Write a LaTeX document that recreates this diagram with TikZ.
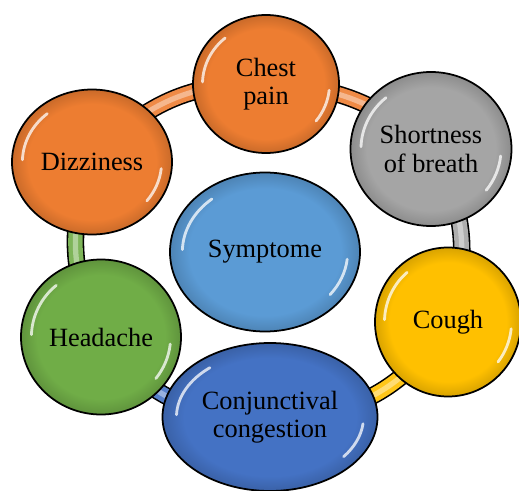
\documentclass[tikz,border=0pt]{standalone}
\usepackage{fontspec}
\setmainfont{Liberation Serif}
\usetikzlibrary{positioning,calc,shapes.geometric,backgrounds}
\definecolor{sOrange}{HTML}{ED7D31}
\definecolor{sGray}{HTML}{A5A5A5}
\definecolor{sYellow}{HTML}{FFC000}
\definecolor{sBlue}{HTML}{4472C4}
\definecolor{sGreen}{HTML}{70AD47}
\definecolor{sSky}{HTML}{5B9BD5}
\colorlet{ballc}{sOrange}
\pgfdeclareradialshading[ballc]{rimshade}{\pgfpoint{0bp}{0bp}}{%
  color(0bp)=(ballc); color(20bp)=(ballc); color(25bp)=(ballc!85!black);
  color(50bp)=(ballc!85!black)}
\tikzset{
  bubble/.style={ellipse, draw=black, line width=1pt, inner sep=0pt, align=center,
                 font=\fontsize{15}{16}\selectfont,
                 /utils/exec={\colorlet{ballc}{#1}}, shading=rimshade,
                 path picture={
                   \draw[white, line width=1.6pt, line cap=round, opacity=.75]
                     let \p1=($(path picture bounding box.north east)-(path picture bounding box.center)$) in
                     ($(path picture bounding box.center)+(130:0.87*\x1 and 0.87*\y1)$)
                       arc[start angle=130, end angle=178, x radius=0.87*\x1, y radius=0.87*\y1]
                     ($(path picture bounding box.center)+(-6:0.87*\x1 and 0.87*\y1)$)
                       arc[start angle=-6, end angle=-38, x radius=0.87*\x1, y radius=0.87*\y1];}},
  tube/.style={draw=black, line width=10pt,
               postaction={draw=#1!90!white, line width=8.2pt},
               postaction={draw=#1!55!white, line width=3pt}},
}

\begin{document}
\begin{tikzpicture}
  \useasboundingbox (0,0) rectangle (10.38,9.8);

  % symptoms round the ring
  \node[bubble=sOrange, minimum width=2.92cm, minimum height=2.76cm] (chest) at (5.32,8.12) {Chest\\ pain};
  \node[bubble=sGray, minimum width=3.22cm, minimum height=3.08cm] (breath) at (8.62,6.82) {Shortness\\ of breath};
  \node[bubble=sYellow, minimum width=2.92cm, minimum height=2.98cm] (cough) at (8.96,3.36) {Cough};
  \node[bubble=sBlue, minimum width=4.3cm, minimum height=2.96cm] (conj) at (5.40,1.46) {Conjunctival\\ congestion};
  \node[bubble=sGreen, minimum width=3.2cm, minimum height=3.1cm] (head) at (2.02,3.06) {Headache};
  \node[bubble=sOrange, minimum width=3.2cm, minimum height=2.9cm] (dizzy) at (1.84,6.56) {Dizziness};

  % centre
  \node[bubble=sSky, minimum width=3.8cm, minimum height=3.18cm] (symp) at (5.30,4.76) {Symptome};

  % ring tubes
  \begin{scope}[on background layer]
    \draw[tube=sOrange] (dizzy.center) to[bend left=26] (chest.center);
    \draw[tube=sOrange] (chest.center) to[bend left=20] (breath.center);
    \draw[tube=sGray] (breath.center) to[bend left=25] (cough.center);
    \draw[tube=sYellow] (cough.center) to[bend left=30] (conj.center);
    \draw[tube=sBlue] (conj.center) to[bend left=28] (head.center);
    \draw[tube=sGreen] (head.center) to[bend left=24] (dizzy.center);
  \end{scope}
\end{tikzpicture}
\end{document}
